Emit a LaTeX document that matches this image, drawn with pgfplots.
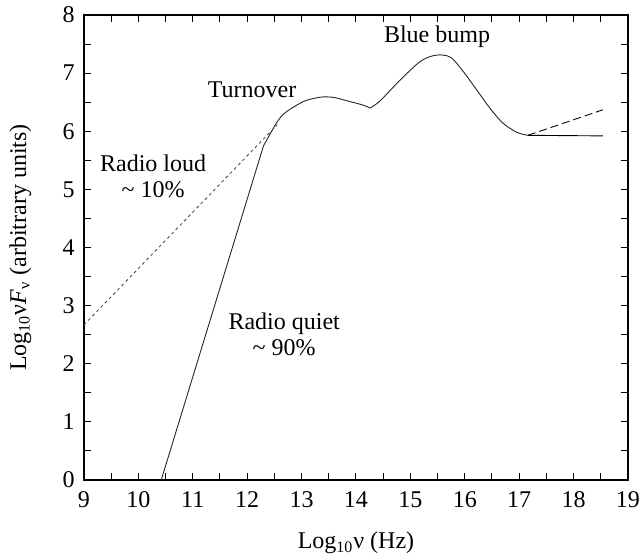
\documentclass[border=0pt]{standalone}
\usepackage{pgfplots}
\pgfplotsset{compat=1.18}
\usepackage{fontspec}
\setmainfont{Liberation Serif}
\setsansfont{Liberation Serif}
\begin{document}
\fontsize{12}{14}\selectfont\rmfamily
\begin{tikzpicture}[every node/.style={font=\rmfamily\fontsize{12}{14}\selectfont}]
\begin{axis}[
  at={(0,0)}, anchor=south west,
  scale only axis, width=272pt, height=232.5pt,
  xmin=9, xmax=19, ymin=0, ymax=8,
  xtick={9,...,19}, ytick={0,...,8},
  minor xtick={9.5,10.5,...,18.5}, minor ytick={0.5,1.5,...,7.5},
  tick align=inside, major tick length=3.5pt, minor tick length=3.5pt,
  tick pos=both, axis line style={line width=1pt}, tick style={line width=0.5pt, black},
  /pgf/number format/assume math mode=true,
  ticklabel style={font=\rmfamily\fontsize{12}{14}\selectfont},
  xticklabel style={yshift=-1.5pt},
  yticklabel style={xshift=-0.5pt},
  xlabel={Log\textsubscript{10}ν (Hz)},
  ylabel={Log\textsubscript{10}ν{\itshape F}\textsubscript{ν} (arbitrary units)},
  xlabel style={at={(axis description cs:0.5,-0.135)}, anchor=center},
  ylabel style={at={(axis description cs:-0.117,0.5)}, anchor=center},
  clip=false,
]
% radio quiet straight rise
\addplot[black!85, line width=0.45pt] coordinates {(10.42,0) (12.30,5.75)};
% turnover region
\addplot[black!85, line width=0.45pt, smooth] coordinates {
 (12.30,5.75) (12.45,6.00) (12.55,6.16) (12.65,6.28) (12.79,6.38) (13.03,6.51)
 (13.20,6.56) (13.39,6.59) (13.60,6.58) (13.89,6.51) (14.13,6.45) (14.26,6.40)};
% blue bump
\addplot[black!85, line width=0.45pt, smooth] coordinates {
 (14.26,6.40) (14.44,6.52) (14.81,6.88) (15.18,7.20) (15.42,7.30) (15.60,7.31)
 (15.76,7.26) (15.97,7.03) (16.22,6.71) (16.46,6.40) (16.70,6.14)
 (16.96,5.98) (17.16,5.93)};
% X-ray flat (radio quiet)
\addplot[black, line width=0.45pt] coordinates {(17.16,5.93) (18.54,5.92)};
% X-ray rising (radio loud)
\addplot[black, line width=0.45pt, dash pattern=on 4pt off 2pt] coordinates {(17.16,5.93) (18.54,6.37)};
% radio loud
\addplot[black!75, line width=0.4pt, dash pattern=on 1.5pt off 1.5pt] coordinates {(9,2.67) (12.55,6.11)};
\node at (axis cs:12.09,6.71) {Turnover};
\node at (axis cs:15.49,7.63) {Blue bump};
\node[align=center] at (axis cs:10.27,5.22) {Radio loud\\[-1pt]\textasciitilde\ 10\%};
\node[align=center] at (axis cs:12.68,2.50) {Radio quiet\\[-1pt]\textasciitilde\ 90\%};
\end{axis}
\pgfresetboundingbox
\path[use as bounding box] (-42pt,-37.5pt) rectangle (277.5pt,240pt);
\end{tikzpicture}
\end{document}
